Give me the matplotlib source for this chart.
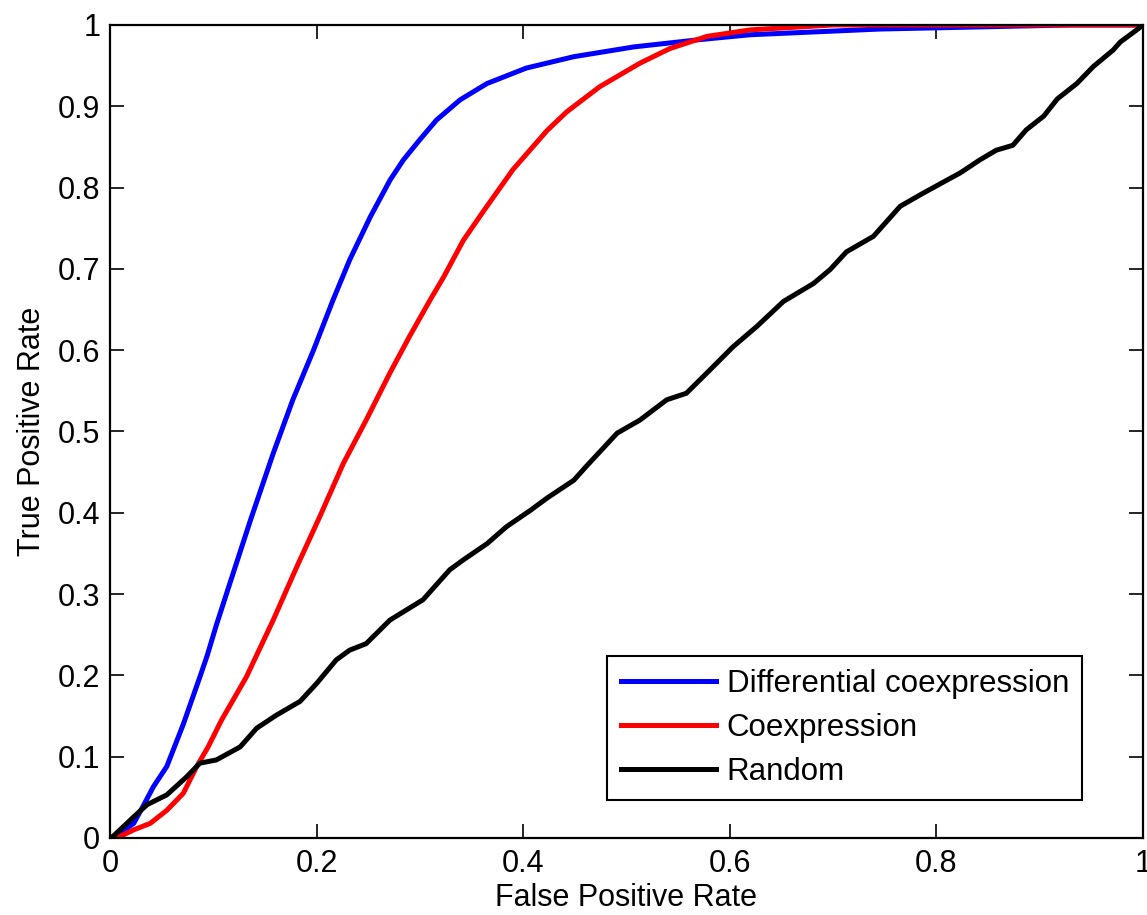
import numpy as np
import matplotlib.pyplot as plt

plt.rcParams['font.family'] = ['Liberation Sans', 'DejaVu Sans']

# ROC curves
diff_fpr = [0, 0.010, 0.023, 0.032, 0.042, 0.055, 0.071, 0.087, 0.094, 0.103, 0.116, 0.136,
            0.158, 0.177, 0.197, 0.216, 0.232, 0.252, 0.271, 0.284, 0.300, 0.316, 0.339,
            0.365, 0.403, 0.449, 0.507, 0.571, 0.620, 0.745, 0.930, 1.0]
diff_tpr = [0, 0.006, 0.018, 0.039, 0.063, 0.088, 0.140, 0.198, 0.224, 0.262, 0.313, 0.391,
            0.473, 0.539, 0.600, 0.662, 0.711, 0.764, 0.809, 0.834, 0.859, 0.883, 0.908,
            0.928, 0.947, 0.961, 0.973, 0.982, 0.988, 0.995, 1.0, 1.0]

co_fpr = [0, 0.010, 0.023, 0.039, 0.055, 0.071, 0.084, 0.095, 0.108, 0.132, 0.158, 0.181,
          0.203, 0.226, 0.248, 0.271, 0.290, 0.310, 0.323, 0.342, 0.361, 0.390, 0.423, 0.442,
          0.474, 0.513, 0.542, 0.578, 0.620, 0.700, 1.0]
co_tpr = [0, 0.002, 0.010, 0.018, 0.034, 0.055, 0.088, 0.112, 0.145, 0.198, 0.268, 0.334,
          0.395, 0.461, 0.514, 0.572, 0.617, 0.662, 0.690, 0.735, 0.770, 0.822, 0.870, 0.893,
          0.924, 0.953, 0.971, 0.986, 0.994, 1.0, 1.0]

rand_fpr = [0, 0.003, 0.023, 0.036, 0.055, 0.074, 0.087, 0.103, 0.126, 0.142, 0.161, 0.184,
            0.200, 0.219, 0.232, 0.248, 0.271, 0.303, 0.329, 0.342, 0.365, 0.384, 0.407,
            0.423, 0.449, 0.461, 0.491, 0.513, 0.539, 0.558, 0.581, 0.603, 0.626, 0.652,
            0.681, 0.697, 0.713, 0.739, 0.765, 0.787, 0.810, 0.823, 0.842, 0.858, 0.874,
            0.887, 0.904, 0.917, 0.936, 0.952, 0.971, 0.978, 0.994, 1.0]
rand_tpr = [0, 0.002, 0.026, 0.041, 0.053, 0.075, 0.092, 0.096, 0.112, 0.135, 0.151, 0.168,
            0.190, 0.219, 0.231, 0.239, 0.268, 0.293, 0.330, 0.342, 0.362, 0.383, 0.403,
            0.418, 0.440, 0.457, 0.498, 0.514, 0.539, 0.547, 0.576, 0.604, 0.629, 0.660,
            0.682, 0.699, 0.721, 0.740, 0.777, 0.793, 0.809, 0.818, 0.834, 0.846, 0.852,
            0.871, 0.888, 0.909, 0.928, 0.949, 0.969, 0.979, 0.994, 1.0]

fig = plt.figure(figsize=(11.47, 9.15), dpi=100)
ax = fig.add_axes([0.0959, 0.0842, 0.9006, 0.8885])

lw = 3.6
ax.plot(diff_fpr, diff_tpr, color='#0000ff', linewidth=lw, label='Differential coexpression')
ax.plot(co_fpr, co_tpr, color='#ff0000', linewidth=lw, label='Coexpression')
ax.plot(rand_fpr, rand_tpr, color='#000000', linewidth=lw, label='Random')

ax.set_xlim(0, 1)
ax.set_ylim(0, 1)
ax.set_xticks(np.arange(0, 1.01, 0.2))
ax.set_xticklabels(['0', '0.2', '0.4', '0.6', '0.8', '1'])
ax.set_yticks(np.arange(0, 1.01, 0.1))
ax.set_yticklabels(['0', '0.1', '0.2', '0.3', '0.4', '0.5', '0.6', '0.7', '0.8', '0.9', '1'])
ax.tick_params(direction='in', length=10, width=1.2, labelsize=22, top=True, right=True)
ax.tick_params(axis='x', pad=8)
ax.tick_params(axis='y', pad=7)
for s in ax.spines.values():
    s.set_linewidth(1.6)

ax.set_xlabel('False Positive Rate', fontsize=22, labelpad=3)
ax.set_ylabel('True Positive Rate', fontsize=22, labelpad=8)

leg = ax.legend(loc='lower right', bbox_to_anchor=(0.941, 0.047), borderaxespad=0,
                fontsize=22.5, fancybox=False, edgecolor='black', handlelength=3.04,
                handletextpad=0.35, framealpha=1, borderpad=0.42, labelspacing=0.44)
leg.get_frame().set_linewidth(1.5)

fig.savefig('out.png', dpi=100)
